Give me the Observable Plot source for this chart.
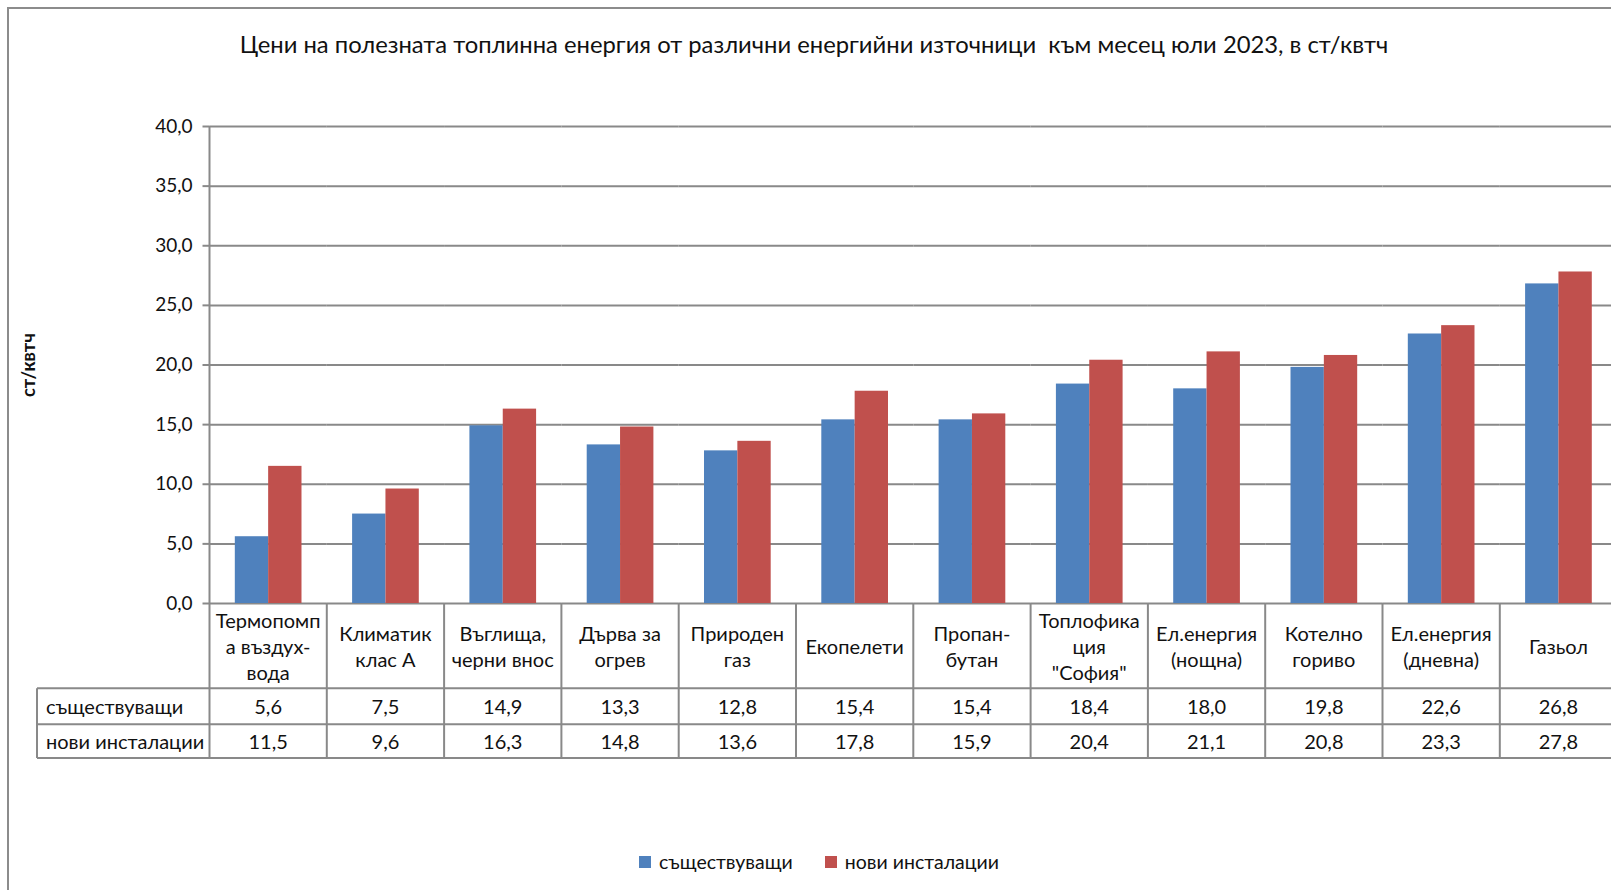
<!DOCTYPE html>
<html>
<head>
<meta charset="utf-8">
<script src="https://cdn.jsdelivr.net/npm/d3@7"></script>
<script src="https://cdn.jsdelivr.net/npm/@observablehq/plot@0.6"></script>
<style>
html, body { margin: 0; padding: 0; overflow: hidden; background: #fff; width: 1611px; height: 890px; }
#wrap { position: relative; width: 1611px; height: 890px; overflow: hidden; font-family: Lato, "Open Sans", sans-serif; color: #111; }
#border { position: absolute; left: 7px; top: 7px; width: 2000px; height: 2000px; border: 2px solid #8c8c8c; box-sizing: border-box; }
#chart { position: absolute; left: 0; top: 0; width: 1700px; }
#chart svg { max-width: none !important; }
#title { position: absolute; top: 30px; left: 0; width: 1628px; text-align: center; font-size: 23.8px; line-height: 28px; white-space: pre; }
#legend { position: absolute; top: 849px; left: 0; width: 1638px; text-align: center; font-size: 19.5px; line-height: 24px; }
#legend span.item { display: inline-flex; align-items: center; margin: 0 16px; }
#legend span.sw { display: inline-block; width: 12px; height: 12px; margin-right: 8px; }
</style>
</head>
<body>
<div id="wrap">
  <div id="border"></div>
  <div id="chart"></div>
  <div id="title"></div>
  <div id="legend"></div>
</div>
<script>
const titleText = "Цени на полезната топлинна енергия от различни енергийни източници  към месец юли 2023, в ст/квтч";
const yLabel = "ст/квтч";
const categories = [
  "Термопомп\nа въздух-\nвода",
  "Климатик\nклас А",
  "Въглища,\nчерни внос",
  "Дърва за\nогрев",
  "Природен\nгаз",
  "Екопелети",
  "Пропан-\nбутан",
  "Топлофика\nция\n\"София\"",
  "Ел.енергия\n(нощна)",
  "Котелно\nгориво",
  "Ел.енергия\n(дневна)",
  "Газьол"
];
const series = ["съществуващи", "нови инсталации"];
const existing = [5.6, 7.5, 14.9, 13.3, 12.8, 15.4, 15.4, 18.4, 18.0, 19.8, 22.6, 26.8];
const newInstallations = [11.5, 9.6, 16.3, 14.8, 13.6, 17.8, 15.9, 20.4, 21.1, 20.8, 23.3, 27.8];
const yTicks = [0, 5, 10, 15, 20, 25, 30, 35, 40];
const colors = ["#4F81BD", "#C0504D"];

const fmt = v => v.toFixed(1).replace(".", ",");
const valuesBySeries = [existing, newInstallations];
const rows = categories.flatMap((c, i) => series.map((s, j) => ({cat: c, s, v: valuesBySeries[j][i]})));

const gridColor = "#898989";
const W = 1620, H = 890;
const FONT = "Lato, 'Open Sans', sans-serif";

const plot = Plot.plot({
  width: W,
  height: H,
  marginLeft: 209.5,
  marginRight: 2.9,
  marginTop: 126,
  marginBottom: H - 603,
  fx: {domain: categories, padding: 0, axis: null, round: false},
  x: {domain: series, paddingInner: 0, paddingOuter: 0.759, axis: null, round: false},
  y: {domain: [0, 40]},
  color: {domain: series, range: colors},
  style: {fontFamily: FONT, background: "transparent", overflow: "visible", maxWidth: "none"},
  marks: [
    Plot.ruleY(yTicks, {stroke: gridColor, strokeWidth: 2}),
    Plot.barY(rows, {fx: "cat", x: "s", y: "v", fill: "s"}),
    Plot.axisY({ticks: yTicks, tickFormat: fmt, tickSize: 7, tickPadding: 10.5, stroke: gridColor, strokeWidth: 2, fill: "#111", fontSize: 19, label: null})
  ]
});
document.getElementById("chart").appendChild(plot);

// Data table beneath the plot, positioned with Plot's own scales
const svg = d3.select(plot);
const fx = plot.scale("fx");
const y = plot.scale("y");
const y0 = y.apply(0), yTop = y.apply(40);
const bw = fx.bandwidth;
const headerBottom = y0 + 85.3, row1Bottom = y0 + 121.2, row2Bottom = y0 + 155.1;
const tableLeft = 37;
const axisX = fx.apply(categories[0]);

const g = svg.append("g").attr("stroke", gridColor).attr("stroke-width", 2);
g.append("line").attr("x1", axisX).attr("x2", axisX).attr("y1", yTop).attr("y2", row2Bottom);
for (const yy of [headerBottom, row1Bottom, row2Bottom]) {
  g.append("line").attr("x1", tableLeft).attr("x2", W).attr("y1", yy).attr("y2", yy);
}
g.append("line").attr("x1", tableLeft).attr("x2", tableLeft).attr("y1", headerBottom).attr("y2", row2Bottom);
for (const c of categories) {
  const xr = fx.apply(c) + bw;
  g.append("line").attr("x1", xr).attr("x2", xr).attr("y1", y0).attr("y2", row2Bottom);
}

const t = svg.append("g").attr("font-family", FONT).attr("font-size", 20).attr("fill", "#111");
const lineH = 26;
categories.forEach((c, i) => {
  const cx = fx.apply(c) + bw / 2;
  const lines = c.split("\n");
  const cy = (y0 + headerBottom) / 2;
  lines.forEach((ln, k) => {
    t.append("text").attr("x", cx).attr("y", cy + (k - (lines.length - 1) / 2) * lineH)
      .attr("text-anchor", "middle").attr("dominant-baseline", "central").text(ln);
  });
  t.append("text").attr("x", cx).attr("y", (headerBottom + row1Bottom) / 2)
    .attr("text-anchor", "middle").attr("dominant-baseline", "central").text(fmt(existing[i]));
  t.append("text").attr("x", cx).attr("y", (row1Bottom + row2Bottom) / 2)
    .attr("text-anchor", "middle").attr("dominant-baseline", "central").text(fmt(newInstallations[i]));
});
series.forEach((s, j) => {
  t.append("text").attr("x", tableLeft + 9).attr("y", j === 0 ? (headerBottom + row1Bottom) / 2 : (row1Bottom + row2Bottom) / 2)
    .attr("text-anchor", "start").attr("dominant-baseline", "central").text(s);
});

// Y axis title
svg.append("text").attr("transform", "translate(28,365) rotate(-90)")
  .attr("text-anchor", "middle").attr("dominant-baseline", "central")
  .attr("font-family", FONT).attr("font-weight", "bold").attr("font-size", 18.5)
  .attr("fill", "#111").text(yLabel);

document.getElementById("title").textContent = titleText;
const legend = document.getElementById("legend");
series.forEach((s, j) => {
  const item = document.createElement("span");
  item.className = "item";
  const sw = document.createElement("span");
  sw.className = "sw";
  sw.style.background = colors[j];
  item.appendChild(sw);
  item.appendChild(document.createTextNode(s));
  legend.appendChild(item);
});
</script>
</body>
</html>
